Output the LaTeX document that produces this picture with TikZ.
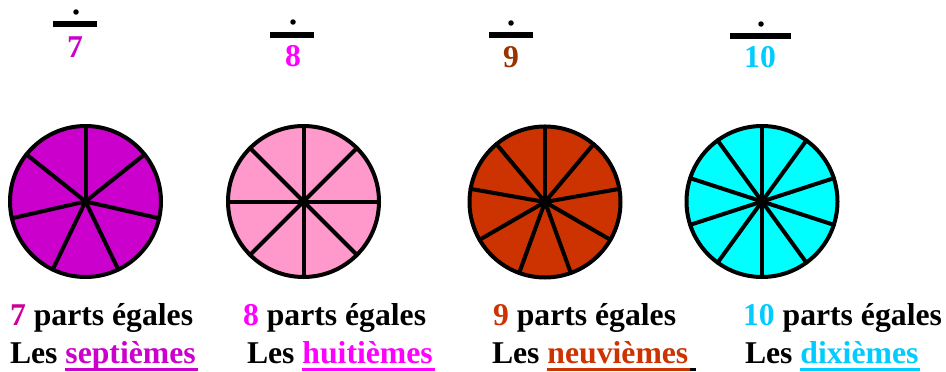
\documentclass[tikz,border=0pt]{standalone}
\usepackage{fontspec}
\setmainfont{Liberation Serif}
\usetikzlibrary{calc}
\definecolor{cSevFill}{HTML}{CC00CC}
\definecolor{cSevNum}{HTML}{CC0099}
\definecolor{cEightFill}{HTML}{FF99CC}
\definecolor{cEight}{HTML}{FF00FF}
\definecolor{cNineFill}{HTML}{CC3300}
\definecolor{cNineFrac}{HTML}{993300}
\definecolor{cTenFill}{HTML}{00FFFF}
\definecolor{cTen}{HTML}{00CCFF}
\tikzset{
  txt/.style={inner sep=0pt, outer sep=0pt, anchor=base west, font=\fontsize{31.7}{38}\selectfont\bfseries},
  digit/.style={inner sep=0pt, outer sep=0pt, anchor=base, font=\fontsize{31.7}{38}\selectfont\bfseries},
  fracdot/.style={circle, fill=black, inner sep=0pt, minimum size=5.5pt},
  fracbar/.style={fill=black, inner sep=0pt, minimum height=6pt},
  pie/.style={draw=black, line width=4pt},
  spoke/.style={draw=black, line width=4pt, line cap=round},
  uline/.style={line width=2.7pt}
}
\begin{document}
\begin{tikzpicture}[x=1pt,y=-1pt]
\useasboundingbox (0,0) rectangle (946,372);

% ---- fractions
\node[fracdot] (dot7) at (76,12) {};
\node[fracbar, minimum width=44pt] (bar7) at (75,24) {};
\node[digit, text=cSevFill] (num7) at (75,57) {7};

\node[fracdot] (dot8) at (293,22) {};
\node[fracbar, minimum width=44pt] (bar8) at (292,35) {};
\node[digit, text=cEight] (num8) at (293,66) {8};

\node[fracdot] (dot9) at (511,23) {};
\node[fracbar, minimum width=44pt] (bar9) at (511,35) {};
\node[digit, text=cNineFrac] (num9) at (511,67) {9};

\node[fracdot] (dot10) at (761,24) {};
\node[fracbar, minimum width=61pt] (bar10) at (760.5,36) {};
\node[digit, text=cTen] (num10) at (760,67) {10};

% ---- pies (y axis points down, so angles are measured clockwise)
\coordinate (c7) at (85.5,201.5);
\coordinate (c8) at (303.5,201.5);
\coordinate (c9) at (545,202);
\coordinate (c10) at (762,201.5);

\fill[cSevFill] (c7) circle[radius=75.5];
\foreach \k in {0,...,6} \draw[spoke] (c7) -- ++({-90+\k*360/7}:75.5);
\draw[pie] (c7) circle[radius=75.5];

\fill[cEightFill] (c8) circle[radius=75.5];
\foreach \k in {0,...,7} \draw[spoke] (c8) -- ++({-90+\k*45}:75.5);
\draw[pie] (c8) circle[radius=75.5];

\fill[cNineFill] (c9) circle[radius=75.5];
\foreach \k in {0,...,8} \draw[spoke] (c9) -- ++({-90+\k*40}:75.5);
\draw[pie] (c9) circle[radius=75.5];

\fill[cTenFill] (c10) circle[radius=75.5];
\foreach \k in {0,...,9} \draw[spoke] (c10) -- ++({-90+\k*36}:75.5);
\draw[pie] (c10) circle[radius=75.5];

% ---- captions
\node[txt] (p7) at (10,325) {\textcolor{cSevNum}{7} parts égales};
\node[txt] (les7) at (10,363) {Les};
\node[txt, text=cSevFill] (w7) at ($(les7.base east)+(7.9,0)$) {septièmes};
\draw[uline, cSevFill] ($(w7.base west)+(0,6.3)$) -- ($(w7.base east)+(2,6.3)$);

\node[txt] (p8) at (243,325) {\textcolor{cEight}{8} parts égales};
\node[txt] (les8) at (247,363) {Les};
\node[txt, text=cEight] (w8) at ($(les8.base east)+(7.9,0)$) {huitièmes};
\draw[uline, cEight] ($(w8.base west)+(0,6.3)$) -- ($(w8.base east)+(2,6.3)$);

\node[txt] (p9) at (493,325) {\textcolor{cNineFill}{9} parts égales};
\node[txt] (les9) at (492,363) {Les};
\node[txt, text=cNineFill] (w9) at ($(les9.base east)+(7.9,0)$) {neuvièmes};
\coordinate (u9) at ($(w9.base east)+(2,6.3)$);
\draw[uline, cNineFill] ($(w9.base west)+(0,6.3)$) -- (u9);
\draw[uline, black] (u9) -- ++(6,0);

\node[txt] (p10) at (743,325) {\textcolor{cTen}{10} parts égales};
\node[txt] (les10) at (745,363) {Les};
\node[txt, text=cTen] (w10) at ($(les10.base east)+(7.9,0)$) {dixièmes};
\draw[uline, cTen] ($(w10.base west)+(0,6.3)$) -- ($(w10.base east)+(2,6.3)$);
\end{tikzpicture}
\end{document}
